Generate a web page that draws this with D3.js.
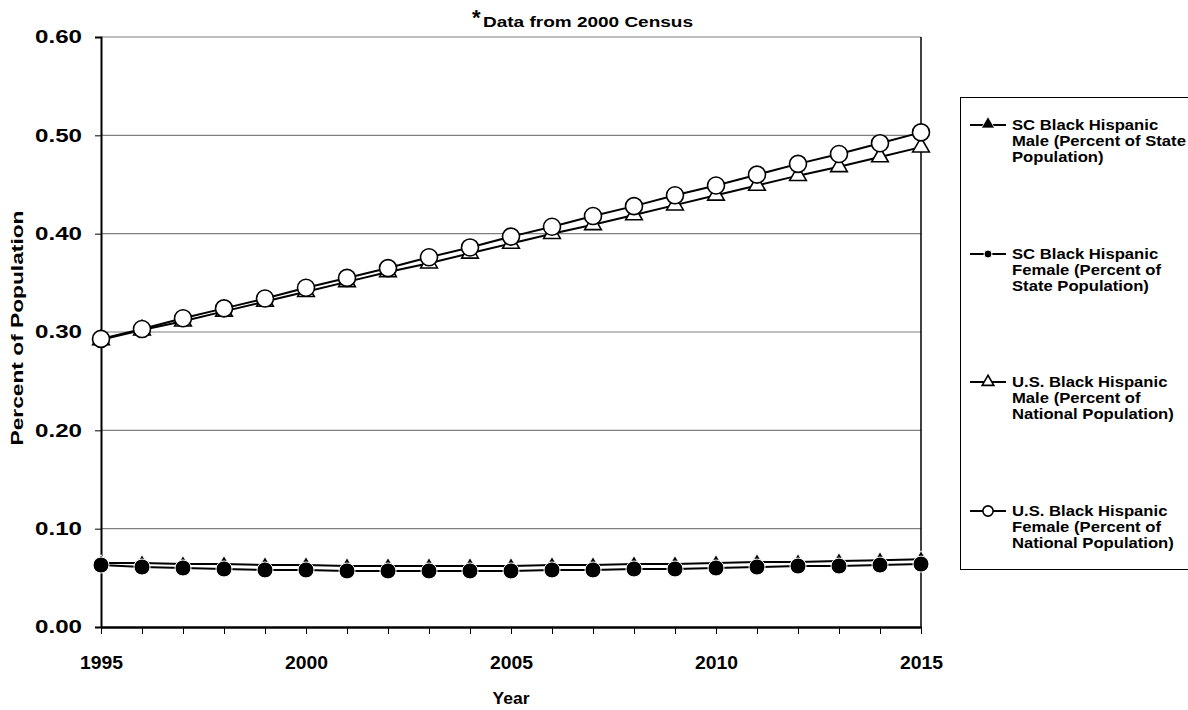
<!DOCTYPE html>
<html>
<head>
<meta charset="utf-8">
<script src="https://d3js.org/d3.v7.min.js"></script>
<style>
  body { margin: 0; background: #fff; }
  svg { display: block; font-family: Arial, "Liberation Sans", sans-serif; }
</style>
</head>
<body>
<svg id="chart" width="1188" height="710"></svg>
<script>
const years = d3.range(1995, 2016);
const yTicks = [0, 0.1, 0.2, 0.3, 0.4, 0.5, 0.6];
const xTickLabels = [1995, 2000, 2005, 2010, 2015];

const scMale   = [0.065,0.065,0.064,0.064,0.063,0.063,0.062,0.062,0.062,0.062,0.062,0.063,0.063,0.064,0.064,0.065,0.066,0.066,0.067,0.068,0.069];
const scFemale = [0.063,0.061,0.060,0.059,0.058,0.058,0.057,0.057,0.057,0.057,0.057,0.058,0.058,0.059,0.059,0.060,0.061,0.062,0.062,0.063,0.064];
const usMale   = [0.292,0.302,0.311,0.321,0.331,0.341,0.351,0.361,0.370,0.380,0.390,0.400,0.409,0.419,0.429,0.439,0.449,0.459,0.468,0.478,0.488];
const usFemale = [0.293,0.303,0.314,0.324,0.334,0.345,0.355,0.365,0.376,0.386,0.397,0.407,0.418,0.428,0.439,0.449,0.460,0.471,0.481,0.492,0.503];

const seriesNames = [
  ["SC Black Hispanic", "Male (Percent of State", "Population)"],
  ["SC Black Hispanic", "Female (Percent of", "State Population)"],
  ["U.S. Black Hispanic", "Male (Percent of", "National Population)"],
  ["U.S. Black Hispanic", "Female (Percent of", "National Population)"]
];
const seriesValues = [scMale, scFemale, usMale, usFemale];
const markerTypes = ["triFilled", "circFilled", "triOpen", "circOpen"];

const svg = d3.select("#chart");
const pLeft = 101, pRight = 921, pTop = 37, pBottom = 627;

const x = d3.scaleLinear().domain([1995, 2015]).range([pLeft, pRight]);
const y = d3.scaleLinear().domain([0, 0.6]).range([pBottom, pTop]);

// gridlines
svg.append("g").selectAll("line").data(yTicks.filter(d => d > 0)).join("line")
  .attr("x1", pLeft).attr("x2", pRight)
  .attr("y1", d => y(d)).attr("y2", d => y(d))
  .attr("stroke", "#808080").attr("stroke-width", 1.2);

// right border
svg.append("line").attr("x1", pRight).attr("x2", pRight).attr("y1", pTop).attr("y2", pBottom)
  .attr("stroke", "#000").attr("stroke-width", 1.5);

// y axis
const yAxis = d3.axisLeft(y).tickValues(yTicks).tickFormat(d3.format(".2f")).tickSize(6).tickPadding(13);
const gy = svg.append("g").attr("transform", `translate(${pLeft},0)`).call(yAxis);
gy.select(".domain").attr("stroke", "#000").attr("stroke-width", 2);
gy.selectAll(".tick line").attr("stroke", "#000").attr("stroke-width", 1);
gy.selectAll(".tick text").attr("font-size", 18).attr("font-weight", "bold").attr("fill", "#000")
  .attr("font-family", "Arial, 'Liberation Sans', sans-serif")
  .attr("textLength", 47).attr("lengthAdjust", "spacingAndGlyphs");

// x axis
const xAxis = d3.axisBottom(x).tickValues(years).tickSize(7).tickSizeOuter(0)
  .tickFormat(d => xTickLabels.includes(d) ? d : "").tickPadding(22);
const gx = svg.append("g").attr("transform", `translate(0,${pBottom})`).call(xAxis);
gx.select(".domain").attr("stroke", "#000").attr("stroke-width", 2.5);
gx.selectAll(".tick line").attr("stroke", "#000").attr("stroke-width", 1);
gx.selectAll(".tick text").attr("font-size", 18).attr("font-weight", "bold").attr("fill", "#000")
  .attr("font-family", "Arial, 'Liberation Sans', sans-serif")
  .filter(d => xTickLabels.includes(d))
  .attr("textLength", 43).attr("lengthAdjust", "spacingAndGlyphs");

// axis titles
svg.append("text").attr("x", 511).attr("y", 704).attr("text-anchor", "middle")
  .attr("font-size", 17).attr("font-weight", "bold")
  .attr("textLength", 37).attr("lengthAdjust", "spacingAndGlyphs").text("Year");
svg.append("text").attr("transform", "translate(23,328) rotate(-90)").attr("text-anchor", "middle")
  .attr("font-size", 17).attr("font-weight", "bold")
  .attr("textLength", 235).attr("lengthAdjust", "spacingAndGlyphs").text("Percent of Population");

// title
svg.append("text").attr("x", 472).attr("y", 25).attr("font-size", 22).attr("font-weight", "bold").text("*");
svg.append("text").attr("x", 483).attr("y", 27).attr("font-size", 14).attr("font-weight", "bold")
  .attr("textLength", 210).attr("lengthAdjust", "spacingAndGlyphs").text("Data from 2000 Census");

function drawMarker(g, type, cx, cy, scale) {
  const s = scale || 1;
  if (type === "triFilled") {
    g.append("path").attr("d", d3.symbol(d3.symbolTriangle, 45 * s * s)())
      .attr("transform", `translate(${cx},${cy - 2.5 * s})`)
      .attr("fill", "#000").attr("stroke", "#fff").attr("stroke-width", 0.8);
  } else if (type === "circFilled") {
    g.append("circle").attr("cx", cx).attr("cy", cy).attr("r", 8 * s)
      .attr("fill", "#000").attr("stroke", "#fff").attr("stroke-width", 1);
  } else if (type === "triOpen") {
    g.append("path").attr("d", d3.symbol(d3.symbolTriangle, 120 * s * s)())
      .attr("transform", `translate(${cx},${cy})`)
      .attr("fill", "#fff").attr("stroke", "#000").attr("stroke-width", 1.6);
  } else {
    g.append("circle").attr("cx", cx).attr("cy", cy).attr("r", 8.5 * s)
      .attr("fill", "#fff").attr("stroke", "#000").attr("stroke-width", 1.6);
  }
}

const line = d3.line().x((d, i) => x(years[i])).y(d => y(d));

seriesValues.forEach((vals, si) => {
  const g = svg.append("g");
  g.append("path").attr("d", line(vals)).attr("fill", "none")
    .attr("stroke", "#000").attr("stroke-width", 2);
  vals.forEach((v, i) => drawMarker(g, markerTypes[si], x(years[i]), y(v), 1));
});

// legend
svg.append("rect").attr("x", 960.5).attr("y", 97.5).attr("width", 240).attr("height", 472)
  .attr("fill", "none").attr("stroke", "#000").attr("stroke-width", 1);

const legendY = [130, 259, 387, 516];
const legendScale = [1.3, 0.5, 0.7, 0.6];
seriesNames.forEach((lines, si) => {
  const ly = legendY[si];
  const g = svg.append("g");
  g.append("line").attr("x1", 970).attr("x2", 1006).attr("y1", ly - 5).attr("y2", ly - 5)
    .attr("stroke", "#000").attr("stroke-width", 2);
  drawMarker(g, markerTypes[si], 988, ly - 5 + (markerTypes[si] === "triFilled" ? 2.5 : 0), legendScale[si]);
  const t = g.append("text").attr("transform", `translate(1012,${ly}) scale(1.19,1)`)
    .attr("font-size", 14).attr("font-weight", "bold");
  lines.forEach((l, k) => t.append("tspan").attr("x", 0).attr("y", k * 16).text(l));
});
</script>
</body>
</html>
